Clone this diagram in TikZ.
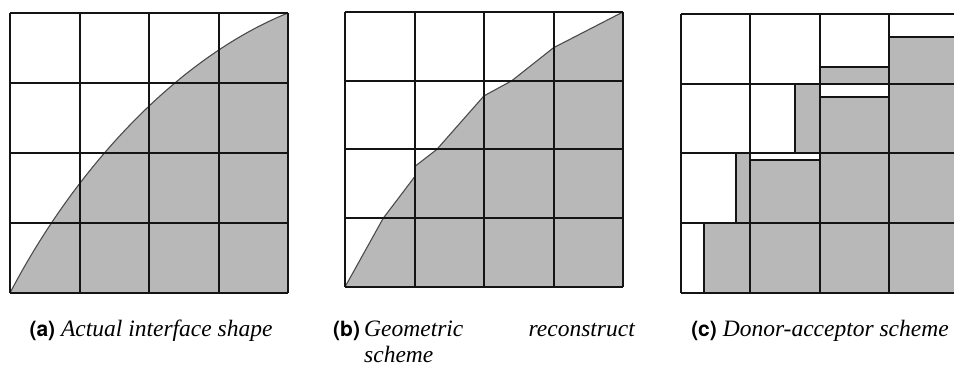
\documentclass[tikz,border=0pt]{standalone}
\usepackage{fontspec}
\setmainfont{Liberation Serif}
\newfontfamily\tagfont{TeX Gyre Heros}
\usepackage{xcolor}
\definecolor{liquidgray}{RGB}{184,184,184}
\definecolor{gridink}{RGB}{20,20,20}
\definecolor{ifaceink}{RGB}{75,75,75}
\newcommand{\subtag}[1]{{\tagfont\fontsize{21}{23}\selectfont\bfseries\upshape #1}}

\tikzset{
  cellgrid/.style={draw=gridink, line width=2pt},
  liquid/.style={fill=liquidgray},
  iface/.style={draw=ifaceink, line width=1.1pt},
  caption/.style={inner sep=0pt, anchor=base, font=\fontsize{23.5}{26}\selectfont\itshape}
}

\begin{document}
\begin{tikzpicture}[x=1pt, y=1pt]

  \useasboundingbox (0,0) rectangle (954,367);

  % ==================== (a) ACTUAL SHAPE ====================
  \begin{scope}[shift={(10pt,74pt)}, x=69.5pt, y=70pt]
    \fill[liquid] (0,0) .. controls (1,1.9) and (2.5,3.4) .. (4,4) -- (4,0) -- cycle;
    \draw[iface] (0,0) .. controls (1,1.9) and (2.5,3.4) .. (4,4);
    \draw[cellgrid] (0,0) grid[step=1] (4,4);
  \end{scope}

  % ==================== (b) GEOMETRIC RECONSTRUCTION ====================
  \begin{scope}[shift={(345pt,80pt)}, x=69.5pt, y=68.75pt]
    \fill[liquid] (0,0) -- (0.55,1) -- (1,1.6) -- (1,1.75) -- (1.32,2) -- (2,2.78)
      -- (2.4,3) -- (3,3.48) -- (4,4) -- (4,0) -- cycle;
    % piecewise segments, one per cell
    \draw[iface] (0,0) -- (0.55,1) -- (1,1.6);
    \draw[iface] (1,1.75) -- (1.32,2) -- (2,2.78) -- (2.4,3) -- (3,3.48) -- (4,4);
    \draw[cellgrid] (0,0) grid[step=1] (4,4);
  \end{scope}

  % ==================== (c) DONOR-ACCEPTOR ====================
  \begin{scope}[shift={(681pt,74pt)}, x=69.3pt, y=69.75pt]
    % filled part of each cell
    \foreach \xa/\ya/\xb/\yb in {0.33/0/1/1, 1/0/2/1, 2/0/3/1, 3/0/4/1,
        0.79/1/1/2, 1/1/2/1.9, 2/1/3/2, 3/1/4/2,
        1.65/2/2/3, 2/2/3/2.81, 3/2/4/3,
        2/3/3/3.24, 3/3/4/3.67} {
      \filldraw[liquid, cellgrid] (\xa,\ya) rectangle (\xb,\yb);
    }
    \draw[cellgrid] (0,0) grid[step=1] (4,4);
  \end{scope}

  % ==================== CAPTIONS ====================
  \node[caption] (capa) at (151,30) {\subtag{(a)} Actual interface shape};

  \node[caption, anchor=base west] (capbtag) at (333,30) {\subtag{(b)}};
  \node[caption, anchor=base west] (capbgeo) at (364,30) {Geometric};
  \node[caption, anchor=base east] (capbrec) at (635,30) {reconstruct};
  \node[caption, anchor=base west] (capbsch) at (364,4) {scheme};

  \node[caption] (capc) at (820,30) {\subtag{(c)} Donor-acceptor scheme};

\end{tikzpicture}
\end{document}
